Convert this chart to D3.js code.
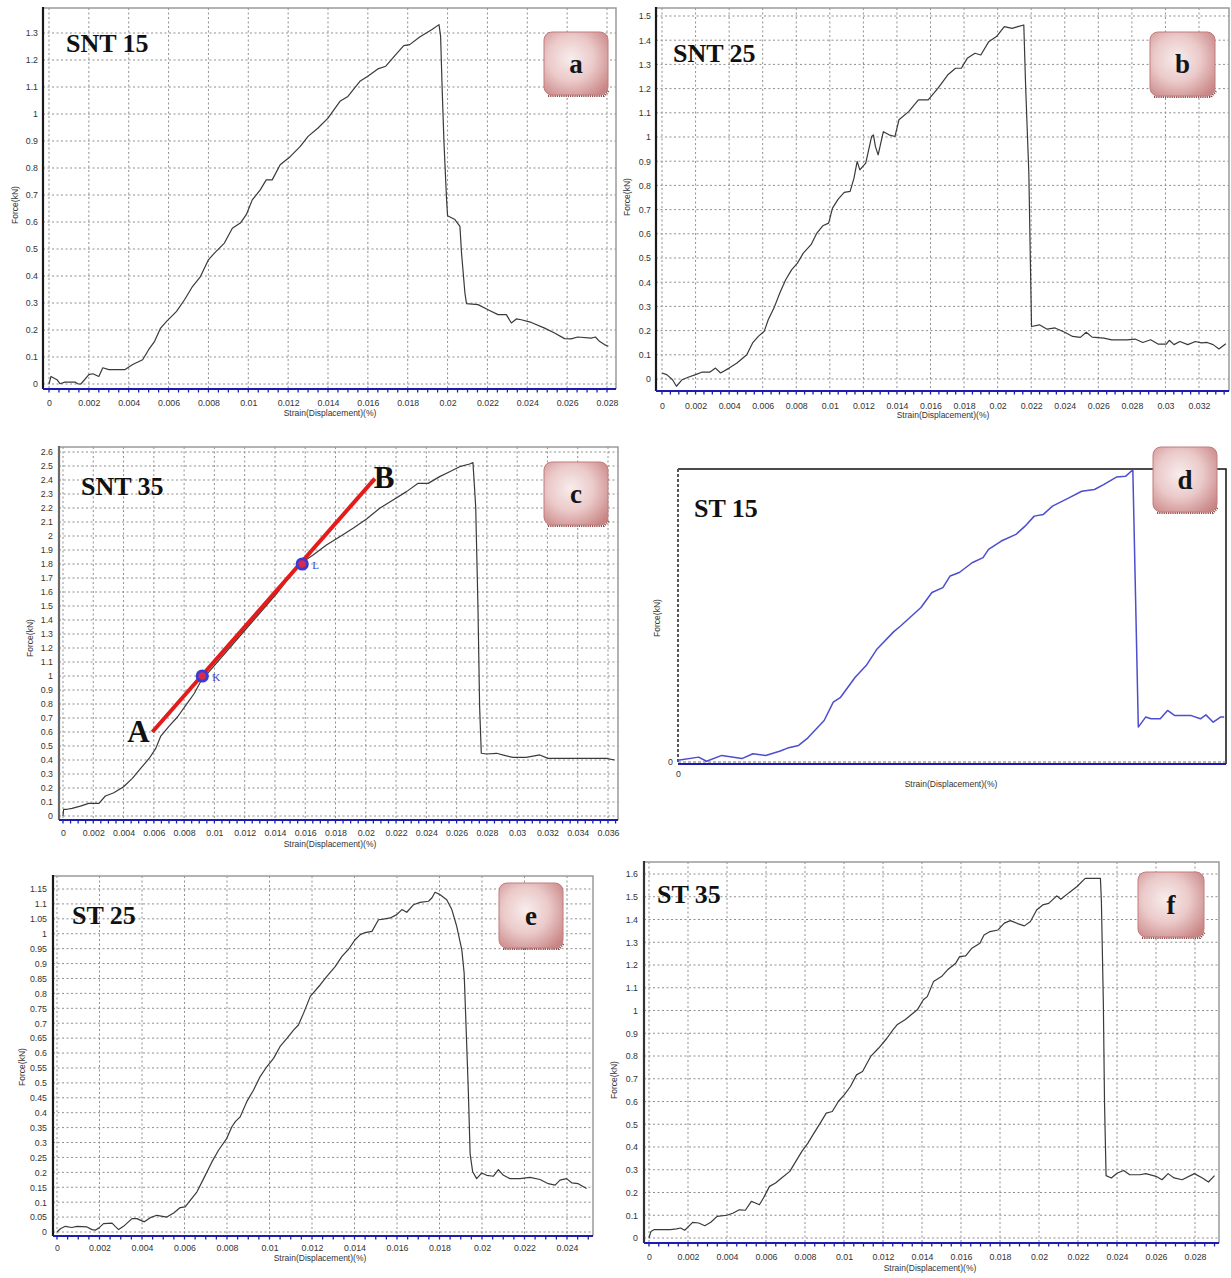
<!DOCTYPE html>
<html><head><meta charset="utf-8">
<script src="https://cdn.jsdelivr.net/npm/d3@7"></script>
<style>body{margin:0;background:#fff} svg{display:block}</style>
</head><body>
<svg id="fig" width="1231" height="1278"></svg>
<script>
// ---------------- DATA (strain, force kN) ----------------
const snt15 = [[0,0],[0.0001,0.028],[0.0004,0.016],[0.00055,0.001],[0.0008,0.007],[0.0013,0.007],[0.00147,0],[0.0016,0],[0.002,0.035],[0.0022,0.038],[0.0025,0.028],[0.0027,0.06],[0.003,0.053],[0.0038,0.053],[0.0042,0.072],[0.0047,0.09],[0.005,0.127],[0.0053,0.158],[0.0056,0.207],[0.0059,0.232],[0.0064,0.269],[0.0068,0.312],[0.0072,0.361],[0.0076,0.398],[0.008,0.46],[0.0083,0.485],[0.0088,0.522],[0.0092,0.577],[0.0096,0.596],[0.0099,0.627],[0.0102,0.682],[0.0106,0.719],[0.0109,0.756],[0.0112,0.756],[0.0116,0.812],[0.0121,0.842],[0.0126,0.879],[0.013,0.917],[0.0135,0.948],[0.014,0.985],[0.0146,1.047],[0.015,1.065],[0.0156,1.121],[0.016,1.14],[0.0165,1.167],[0.0169,1.177],[0.0174,1.22],[0.0178,1.253],[0.0181,1.257],[0.0186,1.285],[0.0192,1.312],[0.01957,1.331],[0.01965,1.288],[0.01973,1.09],[0.01982,0.893],[0.01995,0.683],[0.02,0.623],[0.02037,0.609],[0.02062,0.584],[0.0207,0.485],[0.02087,0.337],[0.02095,0.298],[0.02153,0.294],[0.02203,0.275],[0.02253,0.257],[0.02295,0.257],[0.0232,0.226],[0.02345,0.241],[0.0237,0.238],[0.0242,0.228],[0.02487,0.207],[0.02537,0.189],[0.02587,0.168],[0.0262,0.167],[0.02653,0.174],[0.0272,0.17],[0.02742,0.174],[0.02762,0.158],[0.02787,0.146],[0.02807,0.14]];

const snt25 = [[0,0.025],[0.00028,0.018],[0.00063,-0.003],[0.00086,-0.03],[0.0012,-0.003],[0.00156,0.007],[0.002,0.018],[0.00237,0.028],[0.00284,0.028],[0.00319,0.045],[0.00349,0.025],[0.004,0.045],[0.00447,0.066],[0.00505,0.1],[0.0054,0.149],[0.00574,0.176],[0.00609,0.197],[0.00633,0.245],[0.00667,0.293],[0.00702,0.355],[0.00737,0.41],[0.00772,0.451],[0.00807,0.479],[0.00842,0.52],[0.00888,0.555],[0.00923,0.603],[0.00958,0.633],[0.00993,0.644],[0.01016,0.706],[0.0105,0.743],[0.01086,0.771],[0.01121,0.775],[0.01144,0.83],[0.01163,0.899],[0.01179,0.864],[0.01214,0.892],[0.01249,1.002],[0.0126,1.009],[0.01272,0.96],[0.01288,0.926],[0.01319,1.022],[0.01353,1.009],[0.01388,1.002],[0.01412,1.071],[0.0147,1.105],[0.01528,1.153],[0.01586,1.153],[0.01644,1.201],[0.01702,1.256],[0.01749,1.284],[0.01784,1.284],[0.01819,1.325],[0.01865,1.346],[0.019,1.339],[0.01947,1.394],[0.01993,1.415],[0.0204,1.456],[0.02086,1.449],[0.02121,1.456],[0.02156,1.463],[0.02167,1.208],[0.02186,0.85],[0.02195,0.493],[0.02202,0.217],[0.02249,0.224],[0.02295,0.206],[0.02342,0.211],[0.024,0.193],[0.02447,0.176],[0.02493,0.172],[0.02528,0.193],[0.02563,0.173],[0.02633,0.169],[0.0268,0.162],[0.02772,0.162],[0.02819,0.165],[0.02865,0.151],[0.02912,0.162],[0.02958,0.144],[0.03005,0.144],[0.03023,0.16],[0.03051,0.142],[0.03086,0.155],[0.03133,0.142],[0.03179,0.155],[0.03214,0.149],[0.03249,0.151],[0.03284,0.142],[0.03319,0.124],[0.0336,0.146]];

const snt35 = [[0,0],[0.00004,0.048],[0.00027,0.048],[0.0006,0.055],[0.00115,0.071],[0.0017,0.09],[0.00237,0.09],[0.0028,0.143],[0.00336,0.166],[0.004,0.209],[0.00458,0.269],[0.00513,0.34],[0.00569,0.411],[0.00613,0.483],[0.00646,0.571],[0.00701,0.642],[0.00757,0.709],[0.00812,0.792],[0.00867,0.875],[0.00912,0.966],[0.00945,1.006],[0.011,1.2],[0.0126,1.4],[0.0142,1.6],[0.01564,1.8],[0.01652,1.864],[0.0174,1.936],[0.01828,1.995],[0.01916,2.055],[0.02005,2.121],[0.02092,2.198],[0.0218,2.257],[0.02269,2.317],[0.02346,2.376],[0.02412,2.376],[0.02488,2.424],[0.02554,2.459],[0.0262,2.495],[0.02686,2.514],[0.02708,2.524],[0.02726,2.21],[0.02741,1.495],[0.02752,0.781],[0.02763,0.448],[0.02797,0.443],[0.02863,0.448],[0.02929,0.429],[0.02972,0.419],[0.0306,0.419],[0.03149,0.436],[0.03204,0.412],[0.03325,0.412],[0.03457,0.412],[0.03589,0.412],[0.03644,0.4]];

const st15 = [[0,0.007],[0.00113,0.02],[0.00156,0.003],[0.0024,0.027],[0.0035,0.014],[0.0041,0.034],[0.0048,0.027],[0.0056,0.045],[0.006,0.057],[0.0066,0.068],[0.0071,0.098],[0.008,0.17],[0.0085,0.245],[0.0089,0.265],[0.0097,0.347],[0.0103,0.395],[0.0109,0.463],[0.0118,0.533],[0.0122,0.558],[0.0133,0.633],[0.0139,0.694],[0.0145,0.714],[0.0149,0.762],[0.0154,0.776],[0.0161,0.816],[0.0167,0.837],[0.017,0.871],[0.0177,0.905],[0.0185,0.932],[0.019,0.966],[0.0195,1.007],[0.02,1.014],[0.0205,1.048],[0.0214,1.082],[0.0221,1.109],[0.0228,1.116],[0.0233,1.136],[0.024,1.167],[0.0245,1.17],[0.0249,1.197],[0.0252,0.143],[0.0256,0.184],[0.0259,0.177],[0.0264,0.177],[0.0268,0.211],[0.0272,0.19],[0.0281,0.19],[0.0286,0.177],[0.0289,0.193],[0.0293,0.163],[0.0297,0.184],[0.0299,0.184]];

const st25 = [[0,0],[0.00016,0.011],[0.00039,0.019],[0.0007,0.015],[0.00094,0.019],[0.00141,0.017],[0.00165,0.008],[0.0018,0.006],[0.00196,0.013],[0.00219,0.028],[0.00259,0.03],[0.00274,0.019],[0.0029,0.008],[0.00313,0.019],[0.00353,0.045],[0.00376,0.045],[0.00411,0.034],[0.00439,0.048],[0.0047,0.056],[0.00517,0.05],[0.00549,0.064],[0.0058,0.082],[0.00603,0.084],[0.00627,0.106],[0.00658,0.134],[0.0069,0.179],[0.00729,0.235],[0.0076,0.274],[0.00799,0.314],[0.00823,0.353],[0.00839,0.37],[0.00862,0.386],[0.00893,0.437],[0.00925,0.476],[0.00956,0.521],[0.00987,0.554],[0.01019,0.582],[0.0105,0.622],[0.01082,0.649],[0.01113,0.677],[0.01136,0.694],[0.0116,0.733],[0.01192,0.79],[0.01239,0.829],[0.0127,0.857],[0.01309,0.89],[0.01341,0.924],[0.01372,0.948],[0.01403,0.98],[0.01427,0.997],[0.0145,1.004],[0.01482,1.008],[0.01513,1.047],[0.01536,1.049],[0.01568,1.053],[0.01599,1.064],[0.01623,1.081],[0.01646,1.072],[0.01677,1.097],[0.01709,1.105],[0.01748,1.109],[0.01764,1.12],[0.01779,1.139],[0.01803,1.131],[0.01834,1.114],[0.01858,1.081],[0.01881,1.025],[0.01905,0.946],[0.01916,0.868],[0.01925,0.689],[0.01936,0.465],[0.01944,0.263],[0.01956,0.202],[0.01975,0.179],[0.01999,0.198],[0.02022,0.19],[0.02054,0.187],[0.02077,0.209],[0.02101,0.19],[0.02132,0.179],[0.02179,0.179],[0.02226,0.183],[0.02273,0.176],[0.02312,0.162],[0.02344,0.157],[0.02367,0.174],[0.02398,0.179],[0.02422,0.165],[0.02453,0.162],[0.02492,0.146]];

const st35 = [[0,0],[0.0001,0.029],[0.00027,0.037],[0.0011,0.037],[0.00141,0.04],[0.00162,0.044],[0.00183,0.034],[0.00224,0.069],[0.00255,0.066],[0.00286,0.054],[0.00317,0.069],[0.00349,0.095],[0.004,0.1],[0.00432,0.11],[0.00463,0.124],[0.00494,0.122],[0.00525,0.161],[0.00546,0.154],[0.00566,0.146],[0.00587,0.176],[0.00618,0.227],[0.00649,0.242],[0.0068,0.264],[0.00722,0.293],[0.00753,0.337],[0.00784,0.381],[0.00815,0.417],[0.00846,0.461],[0.00878,0.505],[0.00909,0.549],[0.0094,0.556],[0.00971,0.6],[0.01002,0.63],[0.01033,0.666],[0.01064,0.717],[0.01095,0.732],[0.01137,0.798],[0.01178,0.835],[0.0122,0.878],[0.01251,0.915],[0.01272,0.937],[0.01313,0.959],[0.01344,0.981],[0.01376,1.003],[0.01407,1.047],[0.01427,1.061],[0.01459,1.127],[0.015,1.149],[0.01531,1.179],[0.01573,1.208],[0.01593,1.237],[0.01624,1.24],[0.01656,1.274],[0.01697,1.296],[0.01718,1.332],[0.01749,1.347],[0.0179,1.354],[0.01822,1.384],[0.01853,1.395],[0.01894,1.381],[0.01925,1.372],[0.01956,1.391],[0.01988,1.442],[0.02019,1.464],[0.0205,1.471],[0.02091,1.504],[0.02112,1.489],[0.02154,1.518],[0.02195,1.545],[0.02237,1.581],[0.02315,1.581],[0.0232,1.479],[0.0233,1.032],[0.02336,0.593],[0.02344,0.274],[0.02371,0.264],[0.02402,0.286],[0.02434,0.297],[0.02465,0.278],[0.02517,0.278],[0.02548,0.283],[0.026,0.271],[0.02631,0.256],[0.02662,0.283],[0.02693,0.264],[0.02734,0.256],[0.02797,0.283],[0.02838,0.264],[0.02869,0.246],[0.029,0.274]];

// SNT 35 annotation: tangent line A-B and points K, L
const tangentAB = [[0.0059,0.6],[0.0206,2.41]];
const markKL = [{name:'K', s:0.0092, f:1.0},{name:'L', s:0.0158, f:1.8}];

// tick values [start, end, step]
const ticksA = {x:[0,0.028,0.002], y:[0,1.3,0.1]};
const ticksB = {x:[0,0.032,0.002], y:[0,1.5,0.1]};
const ticksC = {x:[0,0.036,0.002], y:[0,2.6,0.1]};
const ticksD = {x:[0,0,1], y:[0,0,1]};
const ticksE = {x:[0,0.024,0.002], y:[0,1.15,0.05]};
const ticksF = {x:[0,0.028,0.002], y:[0,1.6,0.1]};

const titles = ['SNT 15','SNT 25','SNT 35','ST 15','ST 25','ST 35'];
const letters = ['a','b','c','d','e','f'];
const xTitle = 'Strain(Displacement)(%)';
const yTitle = 'Force(kN)';

// ---------------- DRAWING ----------------
const svg = d3.select('#fig');
const defs = svg.append('defs');
const grad = defs.append('radialGradient').attr('id','boxGrad').attr('cx','42%').attr('cy','42%').attr('r','72%');
grad.append('stop').attr('offset','0%').attr('stop-color','#f8eded');
grad.append('stop').attr('offset','50%').attr('stop-color','#ebc9c9');
grad.append('stop').attr('offset','100%').attr('stop-color','#c98585');

function fmt(v){ return String(+v.toFixed(4)); }
function steps(t){ const n = Math.round((t[1]-t[0])/t[2]); return d3.range(n+1).map(i => +(t[0]+i*t[2]).toFixed(4)); }
const sans = 'Liberation Sans, Arial, sans-serif';
const serif = 'Liberation Serif, Times New Roman, serif';

const layout = [
  {data:snt15, ticks:ticksA, frame:[43,8,616,389], xCal:[0,0.028,49,607], yCal:[0,1.3,384,33], yAxis:'#1a1a1a', xTickY:403, yTickX:38, xLab:[330,416], yLab:[15,205], title:[66,52], box:[544,32,64,63]},
  {data:snt25, ticks:ticksB, frame:[656,8,1229,391], xCal:[0,0.032,662,1199], yCal:[0,1.5,379,16], yAxis:'#1a1a1a', xTickY:406, yTickX:651, xLab:[943,418], yLab:[627,197], title:[673,62], box:[1150,32,65,64]},
  {data:snt35, ticks:ticksC, frame:[59,447,618,820], xCal:[0,0.036,63,608], yCal:[0,2.6,816,452], yAxis:'#6a6a6a', xTickY:833, yTickX:53, xLab:[330,847], yLab:[30,638], title:[81,495], box:[544,462,64,63]},
  {data:st15, ticks:ticksD, frame:[678,469,1226,764], xCal:[0,0.03,678,1226], yCal:[0,1.2,762,469], yAxis:'#444', xTickY:774, yTickX:673, xLab:[951,787], yLab:[657,618], title:[694,517], box:[1153,447,64,65], special:true},
  {data:st25, ticks:ticksE, frame:[53,876,593,1236], xCal:[0,0.024,57,567], yCal:[0,1.15,1232,889], yAxis:'#1a1a1a', xTickY:1248, yTickX:47, xLab:[320,1261], yLab:[22,1067], title:[72,924], box:[499,883,64,65]},
  {data:st35, ticks:ticksF, frame:[644,862,1219,1243], xCal:[0,0.028,649,1195], yCal:[0,1.6,1238,874], yAxis:'#333', xTickY:1257, yTickX:638, xLab:[930,1271], yLab:[614,1080], title:[657,903], box:[1138,872,66,65]}
];

function drawBox(g, b, letter){
  const [bx,by,bw,bh] = b;
  g.append('path').attr('d',`M${bx+4},${by+bh+1}H${bx+bw-4}L${bx+bw+1},${by+bh-5}`)
    .attr('fill','none').attr('stroke','#8e4c4c').attr('stroke-width',2.2).attr('stroke-dasharray','1.2,1');
  g.append('rect').attr('x',bx).attr('y',by).attr('width',bw).attr('height',bh).attr('rx',8)
    .attr('fill','url(#boxGrad)').attr('stroke','#c17c7c').attr('stroke-width',1);
  g.append('text').attr('x',bx+bw/2).attr('y',by+bh/2+9).attr('text-anchor','middle')
    .attr('font-family',serif).attr('font-weight','bold').attr('font-size',27).attr('fill','#151515').text(letter);
}

layout.forEach((p,i) => {
  const g = svg.append('g');
  const [L,T,R,B] = p.frame;
  const x = d3.scaleLinear().domain([p.xCal[0],p.xCal[1]]).range([p.xCal[2],p.xCal[3]]);
  const y = d3.scaleLinear().domain([p.yCal[0],p.yCal[1]]).range([p.yCal[2],p.yCal[3]]);
  const xt = steps(p.ticks.x), yt = steps(p.ticks.y);

  if (!p.special) {
    g.selectAll('.vg').data(xt).join('line').attr('class','vg')
      .attr('x1',d=>x(d)).attr('x2',d=>x(d)).attr('y1',T).attr('y2',B)
      .attr('stroke','#8f8f8f').attr('stroke-width',1).attr('stroke-dasharray','2,2.5');
    g.selectAll('.hg').data(yt).join('line').attr('class','hg')
      .attr('x1',L).attr('x2',R).attr('y1',d=>y(d)).attr('y2',d=>y(d))
      .attr('stroke','#8f8f8f').attr('stroke-width',1).attr('stroke-dasharray','2,2.5');
    g.append('path').attr('d',`M${L},${T}H${R}V${B}`).attr('fill','none').attr('stroke','#9a9a9a').attr('stroke-width',1.5);
    g.append('line').attr('x1',L).attr('x2',L).attr('y1',T-1).attr('y2',B).attr('stroke',p.yAxis).attr('stroke-width',2.2);
    // minor ticks on the bottom axis
    const minorStep = p.ticks.x[2]/4;
    const nMinor = Math.floor((x.invert(R) - p.ticks.x[0]) / minorStep);
    const minor = d3.range(nMinor+1).map(k => p.ticks.x[0] + k*minorStep);
    g.selectAll('.mt').data(minor).join('line').attr('class','mt')
      .attr('x1',d=>x(d)).attr('x2',d=>x(d)).attr('y1',B).attr('y2',B+3.5)
      .attr('stroke','#1c1cb0').attr('stroke-width',1.3);
  } else {
    // ST 15: no grid, only frame
    g.append('path').attr('d',`M${L},${T}H${R}V${B}`).attr('fill','none').attr('stroke','#111').attr('stroke-width',1.5);
    g.append('line').attr('x1',L).attr('x2',L).attr('y1',T).attr('y2',B).attr('stroke','#555').attr('stroke-width',2).attr('stroke-dasharray','3,2');
    g.append('line').attr('x1',L).attr('x2',R).attr('y1',y(0)).attr('y2',y(0)).attr('stroke','#777').attr('stroke-width',1.2).attr('stroke-dasharray','3,2');
  }
  g.append('line').attr('x1',L).attr('x2',R).attr('y1',B).attr('y2',B).attr('stroke','#1c1cb0').attr('stroke-width',2);

  // tick labels through d3 axes
  const gx = g.append('g').attr('transform',`translate(0,${B})`)
    .call(d3.axisBottom(x).tickValues(xt).tickFormat(fmt).tickSize(0).tickPadding(p.xTickY - B - 3));
  gx.select('.domain').remove();
  gx.attr('font-family',sans).attr('font-size',8.8);
  gx.selectAll('text').attr('fill','#333');
  const gy = g.append('g').attr('transform',`translate(${L},0)`)
    .call(d3.axisLeft(y).tickValues(yt).tickFormat(fmt).tickSize(0).tickPadding(L - p.yTickX));
  gy.select('.domain').remove();
  gy.attr('font-family',sans).attr('font-size',8.8);
  gy.selectAll('text').attr('fill','#333');

  // axis titles
  g.append('text').attr('x',p.xLab[0]).attr('y',p.xLab[1]).attr('text-anchor','middle')
    .attr('font-family',sans).attr('font-size',8.5).attr('fill','#333').text(xTitle);
  g.append('text').attr('transform',`translate(${p.yLab[0]},${p.yLab[1]}) rotate(-90)`).attr('text-anchor','middle')
    .attr('dy','0.35em').attr('font-family',sans).attr('font-size',8.5).attr('fill','#333').text(yTitle);

  // curve
  g.append('path').datum(p.data)
    .attr('d', d3.line().x(d=>x(d[0])).y(d=>y(d[1])))
    .attr('fill','none').attr('stroke', p.special ? '#4d4dcf' : '#3a3a3a')
    .attr('stroke-width', p.special ? 1.5 : 1.2).attr('stroke-linejoin','round');

  // title
  g.append('text').attr('x',p.title[0]).attr('y',p.title[1])
    .attr('font-family',serif).attr('font-weight','bold').attr('font-size',26).attr('fill','#111').text(titles[i]);

  // SNT 35 annotations
  if (i === 2) {
    g.append('path').datum(tangentAB)
      .attr('d', d3.line().x(d=>x(d[0])).y(d=>y(d[1])))
      .attr('stroke','#e41b1b').attr('stroke-width',4).attr('fill','none');
    g.selectAll('.kl').data(markKL).join('circle').attr('class','kl')
      .attr('cx',d=>x(d.s)).attr('cy',d=>y(d.f)).attr('r',5.2)
      .attr('fill','#d82a4a').attr('stroke','#3a3ad6').attr('stroke-width',2.8);
    g.selectAll('.kll').data(markKL).join('text').attr('class','kll')
      .attr('x',d=>x(d.s)+10).attr('y',d=>y(d.f)+5)
      .attr('font-family',serif).attr('font-size',11).attr('fill','#3a3ad6').text(d=>d.name);
    g.append('text').attr('x',x(tangentAB[0][0])-25).attr('y',y(tangentAB[0][1])+10)
      .attr('font-family',serif).attr('font-weight','bold').attr('font-size',31).attr('fill','#111').text('A');
    g.append('text').attr('x',x(tangentAB[1][0])-1).attr('y',y(tangentAB[1][1])+9)
      .attr('font-family',serif).attr('font-weight','bold').attr('font-size',31).attr('fill','#111').text('B');
  }

  drawBox(g, p.box, letters[i]);
});
</script>
</body></html>
